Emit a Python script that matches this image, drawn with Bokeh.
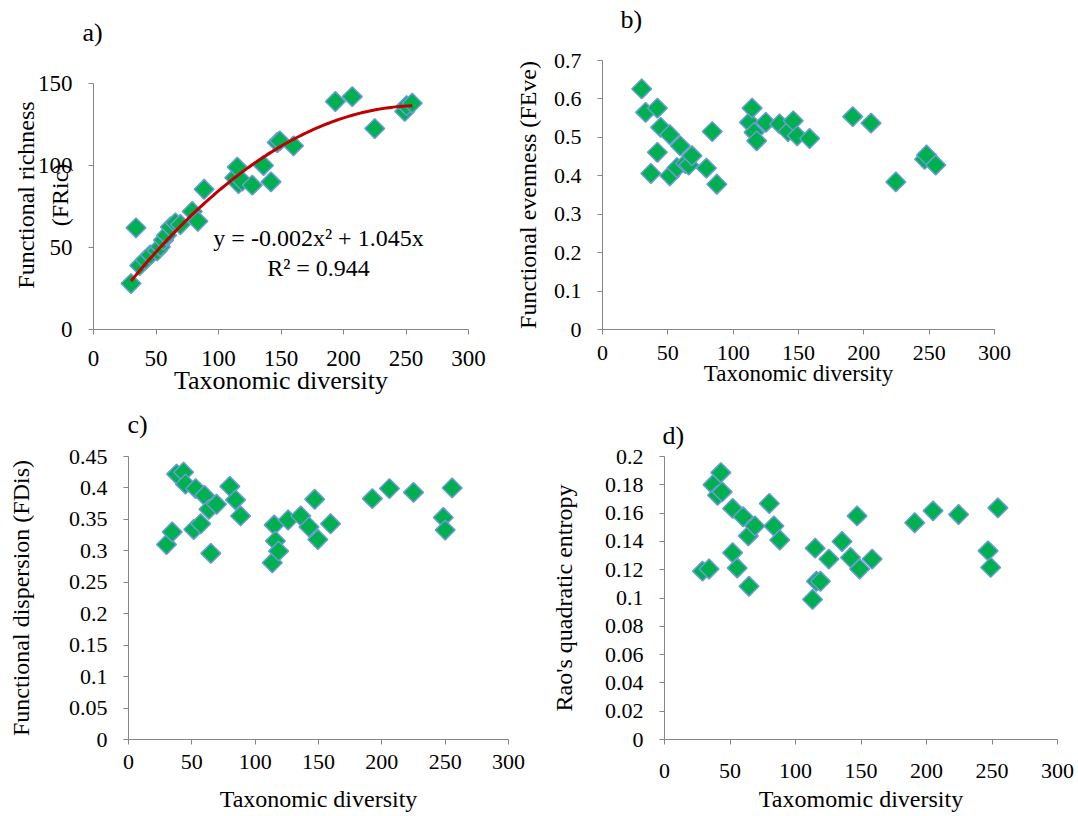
import math
import numpy as np
from bokeh.plotting import figure
from bokeh.models import Range1d, FixedTicker, Label, Title
from bokeh.layouts import column, row
from bokeh.embed import file_html
from bokeh.resources import INLINE

FONT = "Liberation Serif"
FILL = "#00B050"
EDGE = "#6A9BD8"
AXIS = "#868686"

# ---------------- data ----------------
x_ticks = [0, 50, 100, 150, 200, 250, 300]
x_tick_labels = ["0", "50", "100", "150", "200", "250", "300"]

# a) Functional richness
a_x = [30, 34, 37, 41.5, 45.5, 51, 53.5, 56, 58.5, 61.5, 65.5, 69.5, 79, 83.5, 88.5,
       113, 115, 116, 119, 127, 136, 142, 147, 149, 160, 193.5, 207, 225, 249, 250.5, 255]
a_y = [28, 62, 39, 42.5, 45.5, 48, 50.5, 54.5, 57.5, 62.5, 65, 64, 72, 66, 85.5,
       92.5, 99, 89, 90.5, 88, 100, 90, 114, 115, 112, 139, 142, 122.5, 133, 136.5, 138]
a_yticks = [0, 50, 100, 150]
a_ytick_labels = ["0", "50", "100", "150"]
trend_a2 = -0.002
trend_a1 = 1.045
trend_r2 = 0.944

# b) Functional evenness
b_x = [30, 33, 37, 42, 42, 44.5, 51.5, 51.5, 57, 59.5, 63.5, 66, 68.5, 79.5, 84, 87.5,
       112.5, 114.5, 116, 118, 125, 135.5, 142, 146, 149, 158.5, 191.5, 205.5, 224.5,
       246.5, 248, 255]
b_y = [0.626, 0.565, 0.406, 0.576, 0.461, 0.526, 0.507, 0.400, 0.421, 0.478, 0.432, 0.428,
       0.452, 0.420, 0.515, 0.378, 0.539, 0.576, 0.513, 0.491, 0.539, 0.535, 0.515, 0.543,
       0.504, 0.497, 0.554, 0.537, 0.384, 0.443, 0.454, 0.428]
b_yticks = [0, 0.1, 0.2, 0.3, 0.4, 0.5, 0.6, 0.7]
b_ytick_labels = ["0", "0.1", "0.2", "0.3", "0.4", "0.5", "0.6", "0.7"]

# c) Functional dispersion
c_x = [30, 34.5, 38, 43.5, 45, 51.5, 53, 57, 60, 63.5, 65, 69.5, 80, 84.5, 88.5,
       113.5, 115, 116, 118.5, 126, 136, 142.5, 147, 149.5, 159.5, 192.5, 206, 225,
       248.5, 250, 255.5]
c_y = [0.310, 0.330, 0.422, 0.425, 0.406, 0.334, 0.399, 0.343, 0.388, 0.366, 0.296, 0.374,
       0.4025, 0.381, 0.3555, 0.281, 0.341, 0.3155, 0.2995, 0.349, 0.3555, 0.338, 0.382,
       0.318, 0.343, 0.383, 0.399, 0.393, 0.353, 0.333, 0.400]
c_yticks = [0, 0.05, 0.1, 0.15, 0.2, 0.25, 0.3, 0.35, 0.4, 0.45]
c_ytick_labels = ["0", "0.05", "0.1", "0.15", "0.2", "0.25", "0.3", "0.35", "0.4", "0.45"]

# d) Rao's quadratic entropy
d_x = [29, 34, 37, 40.5, 43, 44, 52, 52, 55.5, 60, 64, 64.5, 69, 80, 83.5, 88,
       113, 115, 116, 119, 125.5, 135.5, 142, 147, 149, 158.5, 191, 205, 224.5, 247, 249, 254.5]
d_y = [0.119, 0.1205, 0.180, 0.1726, 0.1886, 0.175, 0.1633, 0.132, 0.1212, 0.1574, 0.1439,
       0.1083, 0.1509, 0.1668, 0.1509, 0.141, 0.099, 0.1352, 0.1118, 0.1118, 0.1275, 0.1399,
       0.1286, 0.158, 0.1205, 0.1275, 0.1532, 0.1616, 0.159, 0.1333, 0.1216, 0.1637]
d_yticks = [0, 0.02, 0.04, 0.06, 0.08, 0.1, 0.12, 0.14, 0.16, 0.18, 0.2]
d_ytick_labels = ["0", "0.02", "0.04", "0.06", "0.08", "0.1", "0.12", "0.14", "0.16", "0.18", "0.2"]


def make_fig(width, height, bl, br, bt, bb, ytop, ymax, yticks, ylabels, tick_size,
             xstand, letter, t_off, t_stand, spacer, xlabel, xl_size, xl_stand, ylabel, yl_stand):
    p = figure(width=width, height=height, x_range=Range1d(0, 300), y_range=Range1d(0, ytop),
               output_backend="svg", toolbar_location=None,
               min_border_left=bl, min_border_right=br, min_border_top=bt, min_border_bottom=bb)
    p.title = Title(text=letter, align="left", offset=t_off, standoff=t_stand,
                    text_font=FONT, text_font_size="26px", text_font_style="normal",
                    text_color="black")
    if spacer > 0:
        p.add_layout(Title(text=" ", align="left", standoff=spacer, text_font=FONT,
                           text_font_size="1px", text_color="white"), "above")
    p.outline_line_color = None
    p.grid.visible = False
    p.background_fill_color = "white"
    p.border_fill_color = "white"
    p.xaxis.ticker = FixedTicker(ticks=x_ticks)
    p.xaxis.major_label_overrides = {t: s for t, s in zip(x_ticks, x_tick_labels)}
    p.yaxis.ticker = FixedTicker(ticks=yticks)
    p.yaxis.major_label_overrides = {t: s for t, s in zip(yticks, ylabels)}
    p.yaxis.bounds = (0, ymax)
    for ax in (p.xaxis[0], p.yaxis[0]):
        ax.axis_line_color = AXIS
        ax.axis_line_width = 1
        ax.major_tick_line_color = AXIS
        ax.major_tick_out = 5
        ax.major_tick_in = 0
        ax.minor_tick_line_color = None
        ax.major_label_text_font = FONT
        ax.major_label_text_font_size = tick_size
        ax.major_label_text_color = "black"
        ax.axis_label_text_font = FONT
        ax.axis_label_text_font_style = "normal"
        ax.axis_label_text_color = "black"
    p.yaxis.major_label_standoff = 16
    p.xaxis.major_label_standoff = xstand
    p.xaxis.axis_label = xlabel
    p.xaxis.axis_label_text_font_size = xl_size
    p.xaxis.axis_label_standoff = xl_stand
    p.yaxis.axis_label = ylabel
    p.yaxis.axis_label_text_font_size = "24px"
    p.yaxis.axis_label_standoff = yl_stand
    return p


def add_points(p, xs, ys):
    p.scatter(xs, ys, marker="square", angle=math.pi / 4, size=14,
              fill_color=FILL, line_color=EDGE, line_width=1.5)


def txt(p, x, y, s, size):
    p.add_layout(Label(x=x, y=y, text=s, text_font=FONT, text_font_size=size,
                       text_align="center", text_baseline="middle", text_color="black"))


# ---- panel a ----
pa = make_fig(500, 400, 93, 32, 60, 71, 164.02, 150, a_yticks, a_ytick_labels, "23px", 16,
              "a)", -11, 28, 0, "Taxonomic diversity", "26px", -3,
              "Functional richness\n(FRic)", -38)
pa.yaxis.axis_label_text_line_height = 1.3
add_points(pa, a_x, a_y)
tx = np.linspace(min(a_x), max(a_x), 120)
pa.line(tx, trend_a2 * tx ** 2 + trend_a1 * tx, line_color="#C00000", line_width=3)
txt(pa, 180, 55.5, "y = %.3fx\u00b2 + %.3fx" % (trend_a2, trend_a1), "24px")
txt(pa, 180, 37.8, "R\u00b2 = %.3f" % trend_r2, "24px")

# ---- panel b ----
pb = make_fig(576, 400, 102, 82, 60, 71, 0.7, 0.7, b_yticks, b_ytick_labels, "22px", 11,
              "b)", 18, 2, 23, "Taxonomic diversity", "23px", -2,
              "Functional evenness (FEve)", 10)
add_points(pb, b_x, b_y)

# ---- panel c ----
pc = make_fig(535, 415, 128, 27, 56, 76, 0.45, 0.45, c_yticks, c_ytick_labels, "22px", 10,
              "c)", -1, 2, 14, "Taxonomic diversity", "24px", 14,
              "Functional dispersion (FDis)", 32)
add_points(pc, c_x, c_y)

# ---- panel d ----
pd = make_fig(541, 415, 129, 19, 56, 76, 0.2, 0.2, d_yticks, d_ytick_labels, "22px", 19,
              "d)", -2, 14, 0, "Taxomomic diversity", "24px", 5,
              "Rao's quadratic entropy", 25)
add_points(pd, d_x, d_y)

layout = column(row(pa, pb), row(pc, pd))
open("out.html", "w").write(file_html(layout, INLINE))
